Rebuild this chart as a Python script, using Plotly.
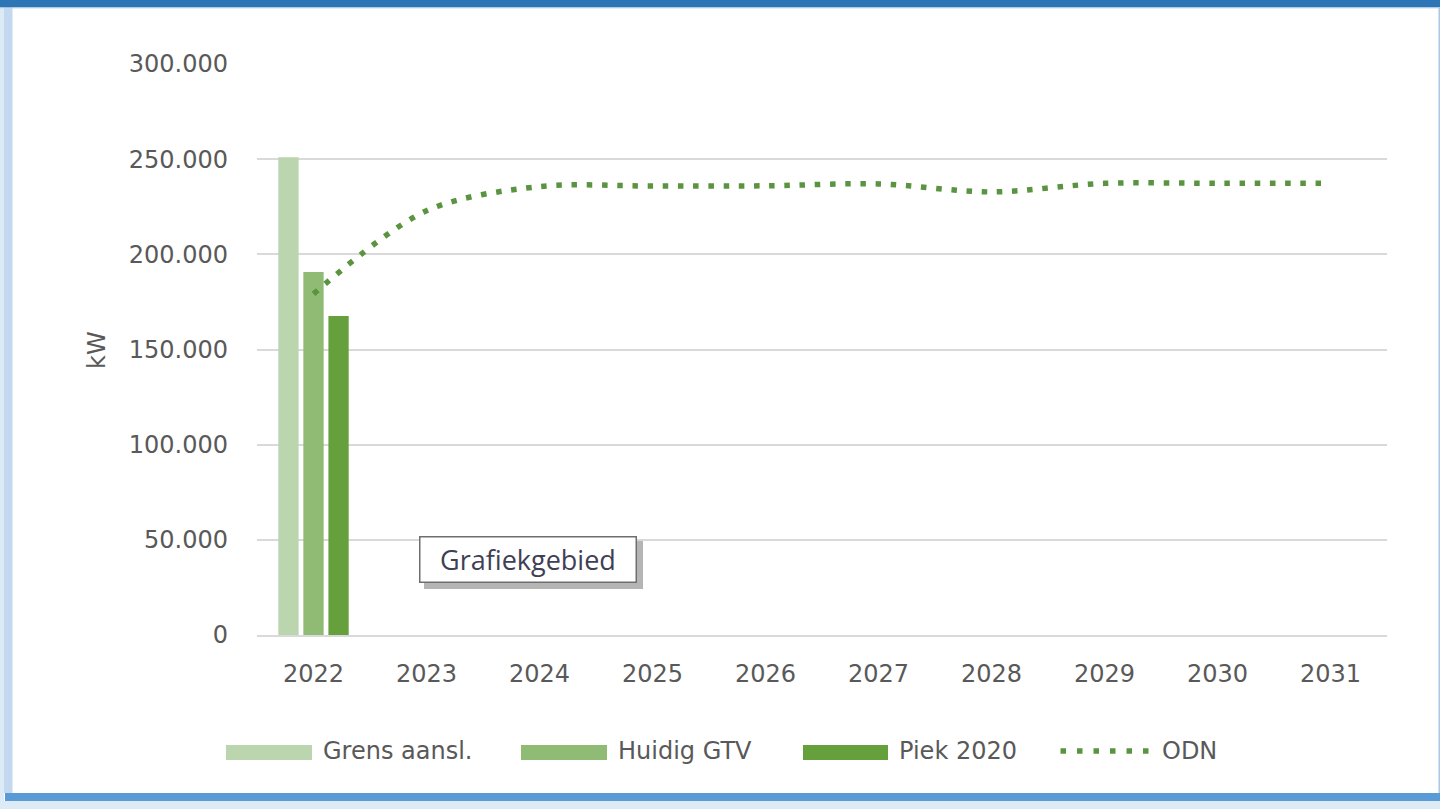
import plotly.graph_objects as go

years = ["2022", "2023", "2024", "2025", "2026", "2027", "2028", "2029", "2030", "2031"]
grens_aansl = [251000]
huidig_gtv = [190700]
piek_2020 = [167600]
odn = [179200, 222900, 235600, 235900, 236000, 237000, 232800, 237300, 237300, 237300]

series_names = ["Grens aansl.", "Huidig GTV", "Piek 2020", "ODN"]
y_ticks = [0, 50000, 100000, 150000, 200000, 250000, 300000]

C_GRENS = "#BBD5AE"
C_HUIDIG = "#8FBB74"
C_PIEK = "#66A03D"
C_ODN = "#5A9440"
TXT = "#595959"
FONT = "DejaVu Sans"
FS = 24

# plot-area pixel geometry (1440x809 page)
L, R, T, B = 257, 1387, 64, 635
W, H = R - L, B - T


def px(x):
    return (x - L) / W


def py(y):
    return (B - y) / H


fig = go.Figure()
fig.add_trace(go.Bar(x=years[:1], y=grens_aansl, name=series_names[0],
                     marker=dict(color=C_GRENS, line=dict(width=0))))
fig.add_trace(go.Bar(x=years[:1], y=huidig_gtv, name=series_names[1],
                     marker=dict(color=C_HUIDIG, line=dict(width=0))))
fig.add_trace(go.Bar(x=years[:1], y=piek_2020, name=series_names[2],
                     marker=dict(color=C_PIEK, line=dict(width=0))))
fig.add_trace(go.Scatter(x=years, y=odn, name=series_names[3], mode="lines",
                         line=dict(color=C_ODN, width=5.5, dash="5.5px,9.7px",
                                   shape="spline", smoothing=0.9)))

shapes = []


def rect(x0, y0, x1, y1, color, layer="below"):
    shapes.append(dict(type="rect", xref="paper", yref="paper",
                       x0=px(x0), x1=px(x1), y0=py(y1), y1=py(y0),
                       fillcolor=color, line=dict(width=0), layer=layer))


# frame of the screenshot
rect(0, 0, 4, 809, "#DDEBF7")
rect(4, 0, 12.5, 793, "#C2D9EF")
rect(0, 801, 1440, 809, "#DDEBF7")
rect(5, 793, 1440, 801, "#5B9BD5")
rect(0, 0, 1440, 7.5, "#2E75B6")
rect(0, 7.5, 1440, 8.5, "#C5DCF0")
rect(1438.5, 8, 1440, 793, "#A9C8E6")

# legend
leg_y0, leg_y1 = 745, 760
legend_items = [
    (226, 312, C_GRENS, 321, series_names[0]),
    (521, 607, C_HUIDIG, 616, series_names[1]),
    (803, 888, C_PIEK, 897, series_names[2]),
]
annotations = []
for x0, x1, col, tx, name in legend_items:
    rect(x0, leg_y0, x1, leg_y1, col)
    annotations.append(dict(xref="paper", yref="paper", x=px(tx), y=py(751),
                            xanchor="left", yanchor="middle", text=name,
                            showarrow=False, font=dict(family=FONT, size=FS, color=TXT)))
shapes.append(dict(type="line", xref="paper", yref="paper",
                   x0=px(1060.5), x1=px(1150), y0=py(751), y1=py(751),
                   line=dict(color=C_ODN, width=5.5, dash="5.5px,11px"), layer="above"))
annotations.append(dict(xref="paper", yref="paper", x=px(1160), y=py(751),
                        xanchor="left", yanchor="middle", text=series_names[3],
                        showarrow=False, font=dict(family=FONT, size=FS, color=TXT)))

# y axis title
annotations.append(dict(xref="paper", yref="paper", x=px(97), y=py(350),
                        xanchor="center", yanchor="middle", text="kW", textangle=-90,
                        showarrow=False, font=dict(family=FONT, size=FS, color=TXT)))

# "Grafiekgebied" tooltip with shadow
shapes.append(dict(type="rect", xref="paper", yref="paper",
                   x0=px(424), x1=px(643), y0=py(589), y1=py(541),
                   fillcolor="rgba(120,120,120,0.55)", line=dict(width=0), layer="above"))
annotations.append(dict(xref="paper", yref="paper", x=px(528), y=py(559.5),
                        xanchor="center", yanchor="middle", text="Grafiekgebied",
                        showarrow=False, width=215, height=44, borderpad=0,
                        bgcolor="white", bordercolor="#6E6E6E", borderwidth=1.5,
                        font=dict(family="Open Sans", size=27, color="#3F3F55")))

fig.update_layout(
    width=1440, height=809,
    margin=dict(l=L, r=1440 - R, t=T, b=809 - B),
    paper_bgcolor="white", plot_bgcolor="white",
    separators=",.",
    barmode="group", bargap=0.335, bargroupgap=0.19,
    showlegend=False,
    shapes=shapes, annotations=annotations,
    hovermode=False,
    font=dict(family=FONT, size=FS, color=TXT),
)
fig.update_xaxes(type="category", categoryorder="array", categoryarray=years,
                 range=[-0.5, 9.5], showgrid=False, showline=True,
                 linecolor="#D9D9D9", linewidth=1.5, ticks="",
                 ticklabelstandoff=16, tickfont=dict(family=FONT, size=FS, color=TXT))
fig.update_yaxes(range=[0, 300000], tickvals=y_ticks, tickformat=",d",
                 showgrid=True, gridcolor="#D9D9D9", gridwidth=1.5,
                 zeroline=False, showline=False, ticks="",
                 ticklabelstandoff=28, tickfont=dict(family=FONT, size=FS, color=TXT))

fig.write_html(
    "out.html",
    config={"displayModeBar": False},
    post_script="document.body.style.margin='0';document.body.style.overflow='hidden';",
)
